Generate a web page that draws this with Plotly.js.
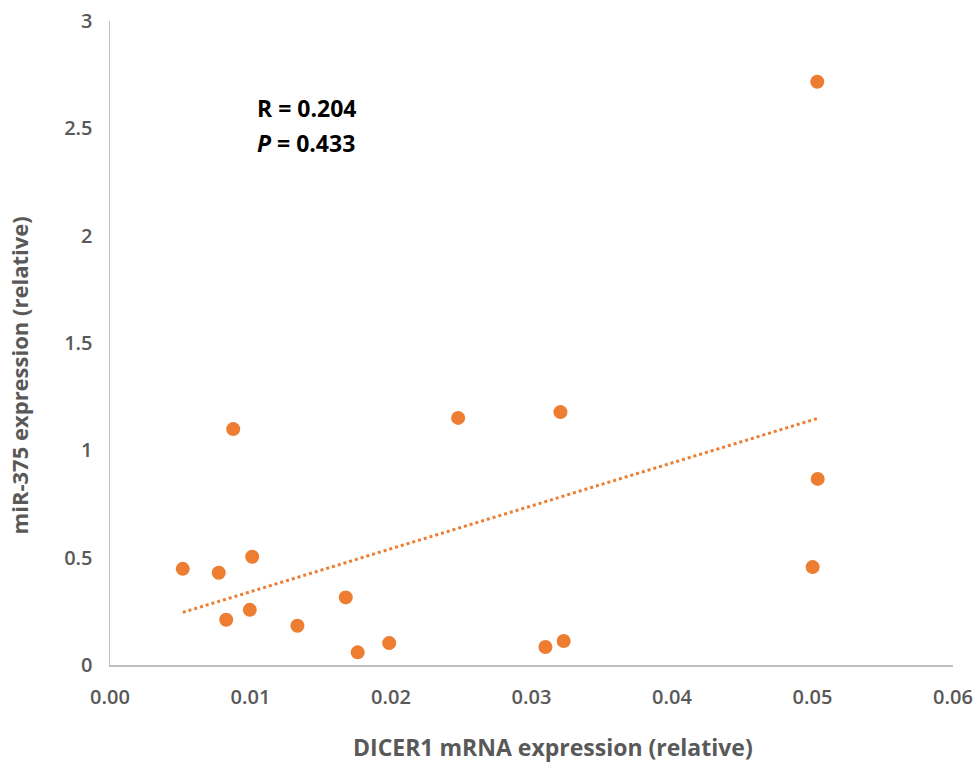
<!DOCTYPE html>
<html>
<head>
<meta charset="utf-8">
<script src="https://cdn.plot.ly/plotly-3.0.1.min.js"></script>
<style>html,body{margin:0;padding:0;background:#fff;}#chart{width:980px;height:771px;}</style>
</head>
<body>
<div id="chart"></div>
<script>
// DICER1 mRNA expression (relative)
const dicer1 = [0.00518, 0.00774, 0.01012, 0.00877, 0.00827, 0.00995, 0.01334, 0.01678, 0.01763, 0.01987, 0.02478, 0.03206, 0.03099, 0.03229, 0.05037, 0.05001, 0.05034];
// miR-375 expression (relative)
const mir375 = [0.448, 0.430, 0.504, 1.099, 0.211, 0.257, 0.183, 0.315, 0.059, 0.102, 1.151, 1.178, 0.084, 0.112, 0.867, 0.456, 2.717];
const xTickVals = [0, 0.01, 0.02, 0.03, 0.04, 0.05, 0.06];
const yTickVals = [0, 0.5, 1, 1.5, 2, 2.5, 3];
const statsText = ["R = 0.204", "<i>P</i> = 0.433"];
const xTitle = "DICER1 mRNA expression (relative)";
const yTitle = "miR-375 expression (relative)";

// linear least-squares trendline over the data range
const n = dicer1.length;
const mx = dicer1.reduce((a, b) => a + b, 0) / n;
const my = mir375.reduce((a, b) => a + b, 0) / n;
let sxy = 0, sxx = 0;
for (let i = 0; i < n; i++) { sxy += (dicer1[i] - mx) * (mir375[i] - my); sxx += (dicer1[i] - mx) ** 2; }
const slope = sxy / sxx, icpt = my - slope * mx;
const xmin = Math.min(...dicer1), xmax = Math.max(...dicer1);
const trendX = [xmin, xmax];
const trendY = trendX.map(v => icpt + slope * v);

const orange = '#ED7D31';
const gray = '#595959';
const fam = '"Open Sans", "Noto Sans", sans-serif';

const traces = [
  { x: trendX, y: trendY, mode: 'lines', type: 'scatter', line: { color: orange, width: 3, dash: 'dot' }, hoverinfo: 'skip' },
  { x: dicer1, y: mir375, mode: 'markers', type: 'scatter', marker: { color: orange, size: 14 } }
];

const layout = {
  width: 980, height: 771,
  margin: { l: 109.5, r: 27.3, t: 21, b: 105.7 },
  paper_bgcolor: '#fff', plot_bgcolor: '#fff',
  showlegend: false,
  font: { family: fam, color: gray },
  xaxis: {
    range: [0, 0.06], tickvals: xTickVals, tickformat: '.2f',
    showgrid: false, zeroline: false, showline: true, linecolor: '#BFBFBF', linewidth: 1.5,
    ticks: '', ticklabelstandoff: 13,
    tickfont: { family: fam, size: 20, color: gray, weight: 600 }
  },
  yaxis: {
    range: [0, 3], tickvals: yTickVals,
    showgrid: false, zeroline: false, showline: true, linecolor: '#BFBFBF', linewidth: 1.5,
    ticks: '', ticklabelstandoff: 12,
    tickfont: { family: fam, size: 20, color: gray, weight: 600 }
  },
  annotations: [
    { text: xTitle, xref: 'paper', yref: 'paper', x: 0.526, y: -0.128, xanchor: 'center', yanchor: 'middle', showarrow: false,
      font: { family: fam, size: 23, color: gray, weight: 'bold' } },
    { text: yTitle, xref: 'paper', yref: 'paper', x: -0.1085, y: 0.449, xanchor: 'center', yanchor: 'middle', textangle: -90, showarrow: false,
      font: { family: fam, size: 22, color: gray, weight: 'bold' } },
    { text: statsText[0], xref: 'paper', yref: 'paper', x: 0.1716, y: 0.865, xanchor: 'left', yanchor: 'middle', showarrow: false,
      font: { family: fam, size: 23, color: '#000', weight: 'bold' } },
    { text: statsText[1], xref: 'paper', yref: 'paper', x: 0.1716, y: 0.811, xanchor: 'left', yanchor: 'middle', showarrow: false,
      font: { family: fam, size: 23, color: '#000', weight: 'bold' } }
  ]
};

Plotly.newPlot('chart', traces, layout, { displayModeBar: false, staticPlot: true });
</script>
</body>
</html>
